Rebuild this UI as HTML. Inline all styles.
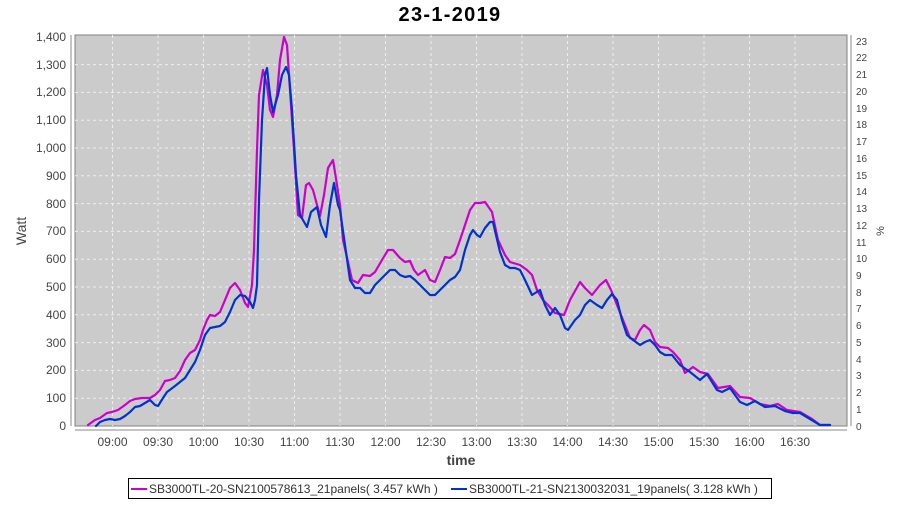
<!DOCTYPE html>
<html><head><meta charset="utf-8"><style>
body{margin:0;background:#fff;width:900px;height:500px;overflow:hidden;font-family:"Liberation Sans",sans-serif}
</style></head><body>
<svg width="900" height="500" xmlns="http://www.w3.org/2000/svg" font-family="Liberation Sans, sans-serif">
<text x="450" y="21" text-anchor="middle" font-size="20" font-weight="bold" letter-spacing="1.3" fill="#000">23-1-2019</text>
<rect x="75" y="35" width="772" height="391" fill="#cbcbcb" stroke="#808080" stroke-width="1"/>
<g stroke="#eeeeee" stroke-width="1" stroke-dasharray="3,3">
<line x1="75" y1="398.2" x2="847" y2="398.2"/><line x1="75" y1="370.4" x2="847" y2="370.4"/><line x1="75" y1="342.6" x2="847" y2="342.6"/><line x1="75" y1="314.8" x2="847" y2="314.8"/><line x1="75" y1="287" x2="847" y2="287"/><line x1="75" y1="259.2" x2="847" y2="259.2"/><line x1="75" y1="231.4" x2="847" y2="231.4"/><line x1="75" y1="203.6" x2="847" y2="203.6"/><line x1="75" y1="175.8" x2="847" y2="175.8"/><line x1="75" y1="148" x2="847" y2="148"/><line x1="75" y1="120.2" x2="847" y2="120.2"/><line x1="75" y1="92.4" x2="847" y2="92.4"/><line x1="75" y1="64.6" x2="847" y2="64.6"/>
<line x1="112.5" y1="35" x2="112.5" y2="426"/><line x1="158" y1="35" x2="158" y2="426"/><line x1="203.5" y1="35" x2="203.5" y2="426"/><line x1="249" y1="35" x2="249" y2="426"/><line x1="294.5" y1="35" x2="294.5" y2="426"/><line x1="340" y1="35" x2="340" y2="426"/><line x1="385.5" y1="35" x2="385.5" y2="426"/><line x1="431" y1="35" x2="431" y2="426"/><line x1="476.5" y1="35" x2="476.5" y2="426"/><line x1="522" y1="35" x2="522" y2="426"/><line x1="567.5" y1="35" x2="567.5" y2="426"/><line x1="613" y1="35" x2="613" y2="426"/><line x1="658.5" y1="35" x2="658.5" y2="426"/><line x1="704" y1="35" x2="704" y2="426"/><line x1="749.5" y1="35" x2="749.5" y2="426"/><line x1="795" y1="35" x2="795" y2="426"/>
</g>
<g fill="none" stroke-width="2.2" stroke-linejoin="round" stroke-linecap="round">
<polyline stroke="#cc00cc" points="88,425 95,420 100,418 107,413 112,412 118,410 125,405 130,401 135,399 142,398 150,398 155,395 160,390 165,381 170,380 175,378 180,371 185,360 190,353 195,350 200,340 203,330 207,320 210,315 215,316 220,312 225,300 230,288 235,283 240,290 245,303 248,307 252,285 254,250 257,150 259,95 263,70 267,85 270,110 273,117 277,95 280,60 284,37 287,45 290,90 294,150 298,215 302,218 306,185 309,183 313,190 320,216 324,195 328,168 333,160 337,185 340,205 343,240 348,262 352,280 358,283 363,275 370,276 375,272 382,260 388,250 393,250 400,258 405,262 410,261 414,270 418,275 425,270 430,280 435,282 440,270 445,257 450,258 455,254 460,240 465,225 470,210 475,203 480,203 485,202 492,212 498,240 505,255 510,262 520,265 527,270 532,275 537,290 543,300 548,305 555,313 564,315 570,300 580,282 585,288 592,295 600,285 606,280 611,290 617,305 625,325 630,338 635,340 640,330 644,325 650,330 655,342 660,347 668,348 673,352 680,360 685,373 693,367 700,372 708,374 718,388 730,386 740,397 750,398 760,404 770,406 778,404 787,410 800,412 812,419 820,425 830,425"/>
<polyline stroke="#0033cc" points="96,426 100,422 105,420 110,419 115,420 120,419 125,416 130,412 135,407 140,406 145,403 150,400 155,405 158,406 163,398 167,392 175,386 185,378 195,362 200,350 205,335 210,328 215,327 220,326 225,322 230,312 235,300 240,295 245,296 250,302 253,308 255,300 257,285 259,200 262,120 265,75 267,68 270,95 273,112 278,95 282,75 286,67 289,75 292,110 296,175 300,215 307,227 311,212 317,207 321,225 326,237 330,205 334,183 338,205 340,210 345,245 350,280 355,288 360,288 365,293 370,293 375,285 380,280 385,275 390,270 395,270 400,275 405,277 410,276 415,280 420,285 425,290 430,295 435,295 440,290 445,285 450,280 455,277 460,270 465,250 470,235 473,230 477,235 480,237 485,228 490,222 493,222 496,235 500,252 505,265 510,268 515,268 520,270 525,280 532,295 540,290 545,305 550,315 555,308 560,315 565,328 568,330 575,320 580,315 585,305 590,300 597,305 602,308 607,300 612,294 617,300 622,320 627,335 633,340 640,345 645,342 650,340 655,345 660,352 665,355 672,355 680,365 690,372 700,380 707,374 717,390 722,392 730,388 740,402 747,405 755,401 765,407 775,406 785,411 793,413 800,413 810,419 820,425 830,425"/>
</g>
<g stroke="#888" stroke-width="1">
<line x1="71" y1="35" x2="71" y2="426"/>
<line x1="75" y1="430" x2="847" y2="430"/>
<line x1="851" y1="35" x2="851" y2="426"/>
</g>
<g font-size="12" fill="#444" text-anchor="end">
<text x="66" y="430">0</text><text x="66" y="402">100</text><text x="66" y="374">200</text><text x="66" y="347">300</text><text x="66" y="319">400</text><text x="66" y="291">500</text><text x="66" y="263">600</text><text x="66" y="235">700</text><text x="66" y="208">800</text><text x="66" y="180">900</text><text x="66" y="152">1,000</text><text x="66" y="124">1,100</text><text x="66" y="96">1,200</text><text x="66" y="69">1,300</text><text x="66" y="41">1,400</text>
</g>
<g font-size="10" fill="#444">
<text x="856" y="430">0</text><text x="856" y="413">1</text><text x="856" y="396">2</text><text x="856" y="379">3</text><text x="856" y="363">4</text><text x="856" y="346">5</text><text x="856" y="329">6</text><text x="856" y="312">7</text><text x="856" y="296">8</text><text x="856" y="279">9</text><text x="856" y="262">10</text><text x="856" y="246">11</text><text x="856" y="229">12</text><text x="856" y="212">13</text><text x="856" y="195">14</text><text x="856" y="179">15</text><text x="856" y="162">16</text><text x="856" y="145">17</text><text x="856" y="128">18</text><text x="856" y="112">19</text><text x="856" y="95">20</text><text x="856" y="78">21</text><text x="856" y="61">22</text><text x="856" y="45">23</text>
</g>
<g font-size="12" fill="#444" text-anchor="middle">
<text x="112.5" y="446">09:00</text><text x="158" y="446">09:30</text><text x="203.5" y="446">10:00</text><text x="249" y="446">10:30</text><text x="294.5" y="446">11:00</text><text x="340" y="446">11:30</text><text x="385.5" y="446">12:00</text><text x="431" y="446">12:30</text><text x="476.5" y="446">13:00</text><text x="522" y="446">13:30</text><text x="567.5" y="446">14:00</text><text x="613" y="446">14:30</text><text x="658.5" y="446">15:00</text><text x="704" y="446">15:30</text><text x="749.5" y="446">16:00</text><text x="795" y="446">16:30</text>
</g>
<text x="461" y="465" text-anchor="middle" font-size="14" font-weight="bold" fill="#444">time</text>
<text transform="translate(26,231) rotate(-90)" text-anchor="middle" font-size="14" fill="#444">Watt</text>
<text transform="translate(884,231) rotate(-90)" text-anchor="middle" font-size="11" fill="#444">%</text>
<rect x="128.5" y="478.5" width="643" height="20" fill="#fff" stroke="#000"/>
<line x1="131" y1="489" x2="147" y2="489" stroke="#cc00cc" stroke-width="2"/>
<text x="149" y="493" font-size="12" fill="#333">SB3000TL-20-SN2100578613_21panels( 3.457 kWh )</text>
<line x1="451" y1="489" x2="467" y2="489" stroke="#0033cc" stroke-width="2"/>
<text x="469" y="493" font-size="12" fill="#333">SB3000TL-21-SN2130032031_19panels( 3.128 kWh )</text>
</svg>
</body></html>
